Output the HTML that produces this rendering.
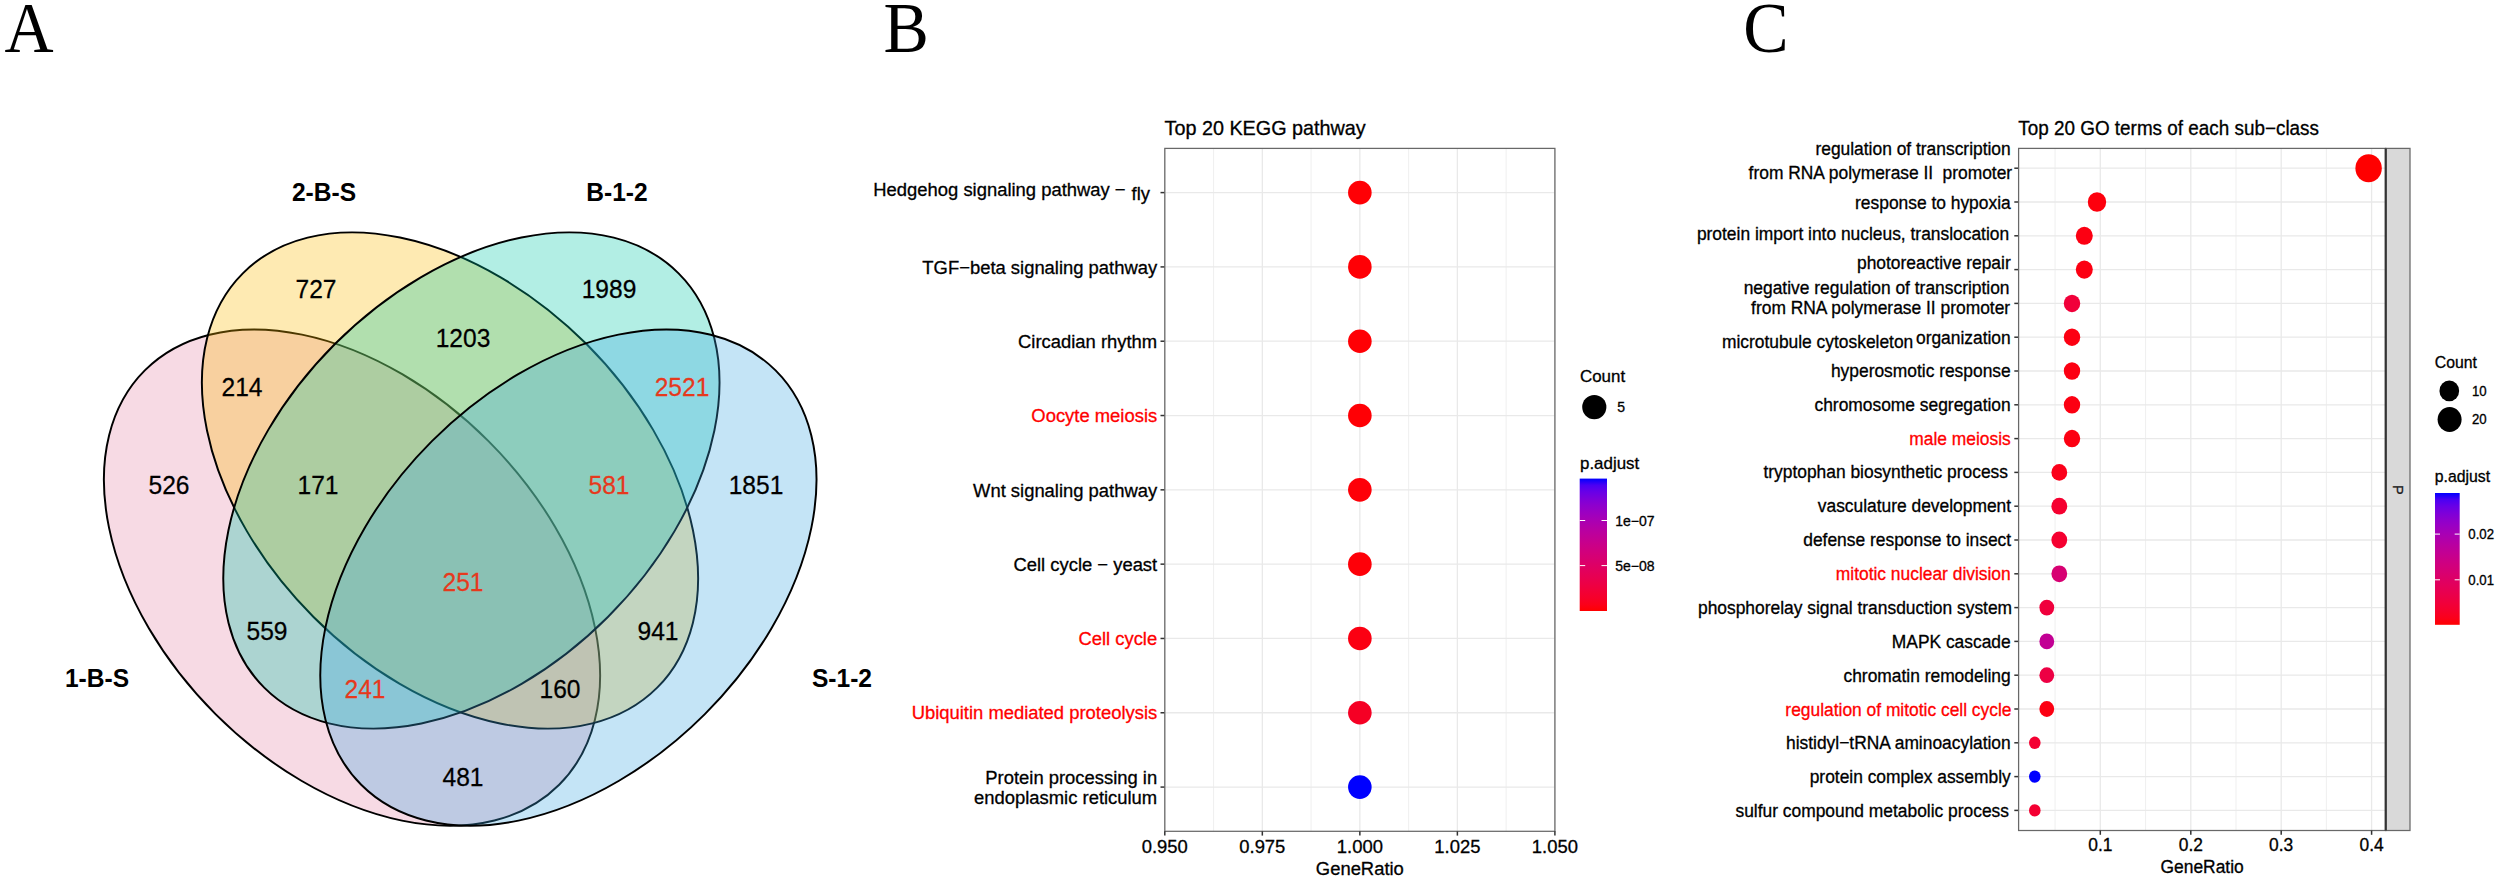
<!DOCTYPE html>
<html><head><meta charset="utf-8"><title>Figure</title>
<style>html,body{margin:0;padding:0;background:#fff;}svg{display:block;}text{font-family:"Liberation Sans",sans-serif;fill:#000;}.s{font-family:"Liberation Serif",serif;}.gg text{stroke:#000;stroke-width:0.3px;}</style>
</head><body>
<svg width="2500" height="881" viewBox="0 0 2500 881">
<rect x="0" y="0" width="2500" height="881" fill="#ffffff"/>
<text class="s" transform="translate(4.6 51.9) scale(1 1.045)" font-size="68">A</text>
<text class="s" transform="translate(883.5 51.9) scale(1 1.045)" font-size="68">B</text>
<text class="s" transform="translate(1743.2 51.9) scale(1 1.045)" font-size="68">C</text>
<ellipse cx="352" cy="577.6" rx="293" ry="193" transform="rotate(45 352 577.6)" fill="#e484a5" fill-opacity="0.3" stroke="#000" stroke-width="1.95"/>
<ellipse cx="450" cy="480.5" rx="293" ry="193" transform="rotate(45 450 480.5)" fill="#fcb900" fill-opacity="0.3" stroke="#000" stroke-width="1.95"/>
<ellipse cx="471.4" cy="480.5" rx="293" ry="193" transform="rotate(-45 471.4 480.5)" fill="#00c6a5" fill-opacity="0.3" stroke="#000" stroke-width="1.95"/>
<ellipse cx="568.4" cy="577.6" rx="293" ry="193" transform="rotate(-45 568.4 577.6)" fill="#3aa5e1" fill-opacity="0.3" stroke="#000" stroke-width="1.95"/>
<text transform="translate(316 297.5) scale(0.945 1)" font-size="26" text-anchor="middle" style="fill:#000;stroke:#000;stroke-width:0.25px">727</text>
<text transform="translate(609 297.5) scale(0.945 1)" font-size="26" text-anchor="middle" style="fill:#000;stroke:#000;stroke-width:0.25px">1989</text>
<text transform="translate(463 346.5) scale(0.945 1)" font-size="26" text-anchor="middle" style="fill:#000;stroke:#000;stroke-width:0.25px">1203</text>
<text transform="translate(242 395.5) scale(0.945 1)" font-size="26" text-anchor="middle" style="fill:#000;stroke:#000;stroke-width:0.25px">214</text>
<text transform="translate(682 395.5) scale(0.945 1)" font-size="26" text-anchor="middle" style="fill:#e6391d;stroke:#e6391d;stroke-width:0.25px">2521</text>
<text transform="translate(169 493.5) scale(0.945 1)" font-size="26" text-anchor="middle" style="fill:#000;stroke:#000;stroke-width:0.25px">526</text>
<text transform="translate(318 493.5) scale(0.945 1)" font-size="26" text-anchor="middle" style="fill:#000;stroke:#000;stroke-width:0.25px">171</text>
<text transform="translate(609 493.5) scale(0.945 1)" font-size="26" text-anchor="middle" style="fill:#e6391d;stroke:#e6391d;stroke-width:0.25px">581</text>
<text transform="translate(756 493.5) scale(0.945 1)" font-size="26" text-anchor="middle" style="fill:#000;stroke:#000;stroke-width:0.25px">1851</text>
<text transform="translate(463 590.5) scale(0.945 1)" font-size="26" text-anchor="middle" style="fill:#e6391d;stroke:#e6391d;stroke-width:0.25px">251</text>
<text transform="translate(267 639.5) scale(0.945 1)" font-size="26" text-anchor="middle" style="fill:#000;stroke:#000;stroke-width:0.25px">559</text>
<text transform="translate(658 639.5) scale(0.945 1)" font-size="26" text-anchor="middle" style="fill:#000;stroke:#000;stroke-width:0.25px">941</text>
<text transform="translate(365 697.5) scale(0.945 1)" font-size="26" text-anchor="middle" style="fill:#e6391d;stroke:#e6391d;stroke-width:0.25px">241</text>
<text transform="translate(560 697.5) scale(0.945 1)" font-size="26" text-anchor="middle" style="fill:#000;stroke:#000;stroke-width:0.25px">160</text>
<text transform="translate(463 785.5) scale(0.945 1)" font-size="26" text-anchor="middle" style="fill:#000;stroke:#000;stroke-width:0.25px">481</text>
<text transform="translate(324 200.7) scale(0.945 1)" font-size="26" font-weight="bold" text-anchor="middle">2-B-S</text>
<text transform="translate(617 200.7) scale(0.945 1)" font-size="26" font-weight="bold" text-anchor="middle">B-1-2</text>
<text transform="translate(97 687.2) scale(0.945 1)" font-size="26" font-weight="bold" text-anchor="middle">1-B-S</text>
<text transform="translate(842 687.2) scale(0.945 1)" font-size="26" font-weight="bold" text-anchor="middle">S-1-2</text>
<g class="gg">
<rect x="1164.8" y="148.4" width="390.10000000000014" height="682.9" fill="#fff"/>
<line x1="1213.5625" x2="1213.5625" y1="148.4" y2="831.3" stroke="#eeeeee" stroke-width="0.95"/>
<line x1="1311.0875" x2="1311.0875" y1="148.4" y2="831.3" stroke="#eeeeee" stroke-width="0.95"/>
<line x1="1408.6125" x2="1408.6125" y1="148.4" y2="831.3" stroke="#eeeeee" stroke-width="0.95"/>
<line x1="1506.1375" x2="1506.1375" y1="148.4" y2="831.3" stroke="#eeeeee" stroke-width="0.95"/>
<line x1="1164.8" x2="1164.8" y1="148.4" y2="831.3" stroke="#e9e9e9" stroke-width="1.3"/>
<line x1="1262.325" x2="1262.325" y1="148.4" y2="831.3" stroke="#e9e9e9" stroke-width="1.3"/>
<line x1="1359.85" x2="1359.85" y1="148.4" y2="831.3" stroke="#e9e9e9" stroke-width="1.3"/>
<line x1="1457.375" x2="1457.375" y1="148.4" y2="831.3" stroke="#e9e9e9" stroke-width="1.3"/>
<line x1="1554.9" x2="1554.9" y1="148.4" y2="831.3" stroke="#e9e9e9" stroke-width="1.3"/>
<line x1="1164.8" x2="1554.9" y1="192.6" y2="192.6" stroke="#e9e9e9" stroke-width="1.3"/>
<line x1="1164.8" x2="1554.9" y1="266.90999999999997" y2="266.90999999999997" stroke="#e9e9e9" stroke-width="1.3"/>
<line x1="1164.8" x2="1554.9" y1="341.22" y2="341.22" stroke="#e9e9e9" stroke-width="1.3"/>
<line x1="1164.8" x2="1554.9" y1="415.53" y2="415.53" stroke="#e9e9e9" stroke-width="1.3"/>
<line x1="1164.8" x2="1554.9" y1="489.84000000000003" y2="489.84000000000003" stroke="#e9e9e9" stroke-width="1.3"/>
<line x1="1164.8" x2="1554.9" y1="564.15" y2="564.15" stroke="#e9e9e9" stroke-width="1.3"/>
<line x1="1164.8" x2="1554.9" y1="638.46" y2="638.46" stroke="#e9e9e9" stroke-width="1.3"/>
<line x1="1164.8" x2="1554.9" y1="712.7700000000001" y2="712.7700000000001" stroke="#e9e9e9" stroke-width="1.3"/>
<line x1="1164.8" x2="1554.9" y1="787.08" y2="787.08" stroke="#e9e9e9" stroke-width="1.3"/>
<line x1="1160.5" x2="1164.8" y1="192.6" y2="192.6" stroke="#333" stroke-width="1.5"/>
<text x="1125.6" y="195.8" font-size="18.42" text-anchor="end">Hedgehog signaling pathway −</text>
<text x="1131.6" y="199.7" font-size="18.42">fly</text>
<circle cx="1359.85" cy="192.6" r="11.8" fill="#ff0005"/>
<line x1="1160.5" x2="1164.8" y1="266.90999999999997" y2="266.90999999999997" stroke="#333" stroke-width="1.5"/>
<text x="1157.2" y="273.60999999999996" font-size="18.42" text-anchor="end" style="fill:#000;stroke:#000">TGF−beta signaling pathway</text>
<circle cx="1359.85" cy="266.90999999999997" r="11.8" fill="#ff0005"/>
<line x1="1160.5" x2="1164.8" y1="341.22" y2="341.22" stroke="#333" stroke-width="1.5"/>
<text x="1157.2" y="347.92" font-size="18.42" text-anchor="end" style="fill:#000;stroke:#000">Circadian rhythm</text>
<circle cx="1359.85" cy="341.22" r="11.8" fill="#ff0005"/>
<line x1="1160.5" x2="1164.8" y1="415.53" y2="415.53" stroke="#333" stroke-width="1.5"/>
<text x="1157.2" y="422.22999999999996" font-size="18.42" text-anchor="end" style="fill:#ff0000;stroke:#ff0000">Oocyte meiosis</text>
<circle cx="1359.85" cy="415.53" r="11.8" fill="#ff0005"/>
<line x1="1160.5" x2="1164.8" y1="489.84000000000003" y2="489.84000000000003" stroke="#333" stroke-width="1.5"/>
<text x="1157.2" y="496.54" font-size="18.42" text-anchor="end" style="fill:#000;stroke:#000">Wnt signaling pathway</text>
<circle cx="1359.85" cy="489.84000000000003" r="11.8" fill="#fe0008"/>
<line x1="1160.5" x2="1164.8" y1="564.15" y2="564.15" stroke="#333" stroke-width="1.5"/>
<text x="1157.2" y="570.85" font-size="18.42" text-anchor="end" style="fill:#000;stroke:#000">Cell cycle − yeast</text>
<circle cx="1359.85" cy="564.15" r="11.8" fill="#fe0008"/>
<line x1="1160.5" x2="1164.8" y1="638.46" y2="638.46" stroke="#333" stroke-width="1.5"/>
<text x="1157.2" y="645.1600000000001" font-size="18.42" text-anchor="end" style="fill:#ff0000;stroke:#ff0000">Cell cycle</text>
<circle cx="1359.85" cy="638.46" r="11.8" fill="#fb0012"/>
<line x1="1160.5" x2="1164.8" y1="712.7700000000001" y2="712.7700000000001" stroke="#333" stroke-width="1.5"/>
<text x="1157.2" y="719.4700000000001" font-size="18.42" text-anchor="end" style="fill:#ff0000;stroke:#ff0000">Ubiquitin mediated proteolysis</text>
<circle cx="1359.85" cy="712.7700000000001" r="11.8" fill="#f50024"/>
<line x1="1160.5" x2="1164.8" y1="787.08" y2="787.08" stroke="#333" stroke-width="1.5"/>
<text x="1157.2" y="783.58" font-size="18.42" text-anchor="end" style="fill:#000;stroke:#000">Protein processing in</text>
<text x="1157.2" y="803.58" font-size="18.42" text-anchor="end" style="fill:#000;stroke:#000">endoplasmic reticulum</text>
<circle cx="1359.85" cy="787.08" r="11.8" fill="#0000ff"/>
<rect x="1164.8" y="148.4" width="390.10000000000014" height="682.9" fill="none" stroke="#686868" stroke-width="1.25"/>
<line x1="1164.8" x2="1164.8" y1="831.3" y2="835.5999999999999" stroke="#333" stroke-width="1.5"/>
<text x="1164.8" y="852.8" font-size="18.42" text-anchor="middle">0.950</text>
<line x1="1262.325" x2="1262.325" y1="831.3" y2="835.5999999999999" stroke="#333" stroke-width="1.5"/>
<text x="1262.325" y="852.8" font-size="18.42" text-anchor="middle">0.975</text>
<line x1="1359.85" x2="1359.85" y1="831.3" y2="835.5999999999999" stroke="#333" stroke-width="1.5"/>
<text x="1359.85" y="852.8" font-size="18.42" text-anchor="middle">1.000</text>
<line x1="1457.375" x2="1457.375" y1="831.3" y2="835.5999999999999" stroke="#333" stroke-width="1.5"/>
<text x="1457.375" y="852.8" font-size="18.42" text-anchor="middle">1.025</text>
<line x1="1554.9" x2="1554.9" y1="831.3" y2="835.5999999999999" stroke="#333" stroke-width="1.5"/>
<text x="1554.9" y="852.8" font-size="18.42" text-anchor="middle">1.050</text>
<text x="1359.85" y="875" font-size="18.42" text-anchor="middle">GeneRatio</text>
<text x="1164.5" y="134.9" font-size="19.8">Top 20 KEGG pathway</text>
<defs><linearGradient id="g1" x1="0" y1="1" x2="0" y2="0"><stop offset="0.000" stop-color="#ff0000"/><stop offset="0.050" stop-color="#fb001a"/><stop offset="0.100" stop-color="#f6002a"/><stop offset="0.150" stop-color="#f20037"/><stop offset="0.200" stop-color="#ed0044"/><stop offset="0.250" stop-color="#e80050"/><stop offset="0.300" stop-color="#e3005b"/><stop offset="0.350" stop-color="#dd0066"/><stop offset="0.400" stop-color="#d70072"/><stop offset="0.450" stop-color="#d1007d"/><stop offset="0.500" stop-color="#ca0088"/><stop offset="0.550" stop-color="#c20094"/><stop offset="0.600" stop-color="#ba009f"/><stop offset="0.650" stop-color="#b000ab"/><stop offset="0.700" stop-color="#a600b7"/><stop offset="0.750" stop-color="#9a00c3"/><stop offset="0.800" stop-color="#8d00ce"/><stop offset="0.850" stop-color="#7c00da"/><stop offset="0.900" stop-color="#6800e7"/><stop offset="0.950" stop-color="#4b00f3"/><stop offset="1.000" stop-color="#0000ff"/></linearGradient></defs>
<text x="1580" y="382" font-size="16.92">Count</text>
<circle cx="1594.3" cy="407.1" r="12.1" fill="#000"/>
<text x="1617.2" y="412" font-size="14">5</text>
<text x="1580" y="469" font-size="16.92">p.adjust</text>
<rect x="1579.7" y="478.6" width="27.3" height="132.4" fill="url(#g1)"/>
<line x1="1579.7" x2="1585.2" y1="520.5" y2="520.5" stroke="#fff" stroke-width="1"/><line x1="1601.5" x2="1607" y1="520.5" y2="520.5" stroke="#fff" stroke-width="1"/>
<text x="1615.3" y="525.5" font-size="14">1e−07</text>
<line x1="1579.7" x2="1585.2" y1="565.6" y2="565.6" stroke="#fff" stroke-width="1"/><line x1="1601.5" x2="1607" y1="565.6" y2="565.6" stroke="#fff" stroke-width="1"/>
<text x="1615.3" y="570.6" font-size="14">5e−08</text>
<rect x="2018.6" y="148.4" width="367.0999999999999" height="682.1" fill="#fff"/>
<line x1="2055.0833333333335" x2="2055.0833333333335" y1="148.4" y2="830.5" stroke="#eeeeee" stroke-width="0.95"/>
<line x1="2145.55" x2="2145.55" y1="148.4" y2="830.5" stroke="#eeeeee" stroke-width="0.95"/>
<line x1="2236.0" x2="2236.0" y1="148.4" y2="830.5" stroke="#eeeeee" stroke-width="0.95"/>
<line x1="2326.3999999999996" x2="2326.3999999999996" y1="148.4" y2="830.5" stroke="#eeeeee" stroke-width="0.95"/>
<line x1="2100.3" x2="2100.3" y1="148.4" y2="830.5" stroke="#e9e9e9" stroke-width="1.3"/>
<line x1="2190.8" x2="2190.8" y1="148.4" y2="830.5" stroke="#e9e9e9" stroke-width="1.3"/>
<line x1="2281.2" x2="2281.2" y1="148.4" y2="830.5" stroke="#e9e9e9" stroke-width="1.3"/>
<line x1="2371.6" x2="2371.6" y1="148.4" y2="830.5" stroke="#e9e9e9" stroke-width="1.3"/>
<line x1="2018.6" x2="2385.7" y1="168.2" y2="168.2" stroke="#e9e9e9" stroke-width="1.3"/>
<line x1="2018.6" x2="2385.7" y1="202.0" y2="202.0" stroke="#e9e9e9" stroke-width="1.3"/>
<line x1="2018.6" x2="2385.7" y1="235.79999999999998" y2="235.79999999999998" stroke="#e9e9e9" stroke-width="1.3"/>
<line x1="2018.6" x2="2385.7" y1="269.59999999999997" y2="269.59999999999997" stroke="#e9e9e9" stroke-width="1.3"/>
<line x1="2018.6" x2="2385.7" y1="303.4" y2="303.4" stroke="#e9e9e9" stroke-width="1.3"/>
<line x1="2018.6" x2="2385.7" y1="337.2" y2="337.2" stroke="#e9e9e9" stroke-width="1.3"/>
<line x1="2018.6" x2="2385.7" y1="371.0" y2="371.0" stroke="#e9e9e9" stroke-width="1.3"/>
<line x1="2018.6" x2="2385.7" y1="404.79999999999995" y2="404.79999999999995" stroke="#e9e9e9" stroke-width="1.3"/>
<line x1="2018.6" x2="2385.7" y1="438.59999999999997" y2="438.59999999999997" stroke="#e9e9e9" stroke-width="1.3"/>
<line x1="2018.6" x2="2385.7" y1="472.4" y2="472.4" stroke="#e9e9e9" stroke-width="1.3"/>
<line x1="2018.6" x2="2385.7" y1="506.2" y2="506.2" stroke="#e9e9e9" stroke-width="1.3"/>
<line x1="2018.6" x2="2385.7" y1="540.0" y2="540.0" stroke="#e9e9e9" stroke-width="1.3"/>
<line x1="2018.6" x2="2385.7" y1="573.8" y2="573.8" stroke="#e9e9e9" stroke-width="1.3"/>
<line x1="2018.6" x2="2385.7" y1="607.5999999999999" y2="607.5999999999999" stroke="#e9e9e9" stroke-width="1.3"/>
<line x1="2018.6" x2="2385.7" y1="641.3999999999999" y2="641.3999999999999" stroke="#e9e9e9" stroke-width="1.3"/>
<line x1="2018.6" x2="2385.7" y1="675.1999999999999" y2="675.1999999999999" stroke="#e9e9e9" stroke-width="1.3"/>
<line x1="2018.6" x2="2385.7" y1="709.0" y2="709.0" stroke="#e9e9e9" stroke-width="1.3"/>
<line x1="2018.6" x2="2385.7" y1="742.8" y2="742.8" stroke="#e9e9e9" stroke-width="1.3"/>
<line x1="2018.6" x2="2385.7" y1="776.5999999999999" y2="776.5999999999999" stroke="#e9e9e9" stroke-width="1.3"/>
<line x1="2018.6" x2="2385.7" y1="810.3999999999999" y2="810.3999999999999" stroke="#e9e9e9" stroke-width="1.3"/>
<line x1="2014.3" x2="2018.6" y1="168.2" y2="168.2" stroke="#333" stroke-width="1.5"/>
<text transform="translate(2010.7 155.0) scale(1 1.05)" font-size="17.4" text-anchor="end">regulation of transcription</text>
<text transform="translate(1748.6 178.5) scale(1 1.05)" font-size="17.4">from RNA polymerase II</text>
<text transform="translate(2012.1000000000001 178.5) scale(1 1.05)" font-size="17.4" text-anchor="end">promoter</text>
<ellipse cx="2368.6" cy="168.2" rx="13.2" ry="14.06" fill="#ff0000"/>
<line x1="2014.3" x2="2018.6" y1="202.0" y2="202.0" stroke="#333" stroke-width="1.5"/>
<text transform="translate(2010.7 208.5) scale(1 1.05)" font-size="17.4" text-anchor="end">response to hypoxia</text>
<ellipse cx="2097.0" cy="202.0" rx="9.2" ry="9.80" fill="#fd000d"/>
<line x1="2014.3" x2="2018.6" y1="235.8" y2="235.8" stroke="#333" stroke-width="1.5"/>
<text transform="translate(2009.1000000000001 239.7) scale(1 1.05)" font-size="17.4" text-anchor="end">protein import into nucleus, translocation</text>
<ellipse cx="2084.3" cy="235.8" rx="8.5" ry="9.05" fill="#fc0012"/>
<line x1="2014.3" x2="2018.6" y1="269.6" y2="269.6" stroke="#333" stroke-width="1.5"/>
<text transform="translate(2010.7 269.4) scale(1 1.05)" font-size="17.4" text-anchor="end">photoreactive repair</text>
<ellipse cx="2084.3" cy="269.6" rx="8.5" ry="9.05" fill="#fc0012"/>
<line x1="2014.3" x2="2018.6" y1="303.4" y2="303.4" stroke="#333" stroke-width="1.5"/>
<text transform="translate(2009.5 293.9) scale(1 1.05)" font-size="17.4" text-anchor="end">negative regulation of transcription</text>
<text transform="translate(2010.1000000000001 313.5) scale(1 1.05)" font-size="17.4" text-anchor="end">from RNA polymerase II promoter</text>
<ellipse cx="2072.0" cy="303.4" rx="8.2" ry="8.73" fill="#f1003a"/>
<line x1="2014.3" x2="2018.6" y1="337.2" y2="337.2" stroke="#333" stroke-width="1.5"/>
<text transform="translate(1721.9 347.6) scale(1 1.05)" font-size="17.4">microtubule cytoskeleton</text>
<text transform="translate(2010.7 344.2) scale(1 1.05)" font-size="17.4" text-anchor="end">organization</text>
<ellipse cx="2072.0" cy="337.2" rx="8.2" ry="8.73" fill="#fc0012"/>
<line x1="2014.3" x2="2018.6" y1="371.0" y2="371.0" stroke="#333" stroke-width="1.5"/>
<text transform="translate(2010.7 377.1) scale(1 1.05)" font-size="17.4" text-anchor="end">hyperosmotic response</text>
<ellipse cx="2072.0" cy="371.0" rx="8.2" ry="8.73" fill="#fc0012"/>
<line x1="2014.3" x2="2018.6" y1="404.8" y2="404.8" stroke="#333" stroke-width="1.5"/>
<text transform="translate(2010.7 410.9) scale(1 1.05)" font-size="17.4" text-anchor="end">chromosome segregation</text>
<ellipse cx="2072.0" cy="404.8" rx="8.2" ry="8.73" fill="#fc0012"/>
<line x1="2014.3" x2="2018.6" y1="438.6" y2="438.6" stroke="#333" stroke-width="1.5"/>
<text transform="translate(2010.7 444.7) scale(1 1.05)" font-size="17.4" text-anchor="end" style="fill:#ff0000;stroke:#ff0000">male meiosis</text>
<ellipse cx="2072.0" cy="438.6" rx="8.2" ry="8.73" fill="#fc0012"/>
<line x1="2014.3" x2="2018.6" y1="472.4" y2="472.4" stroke="#333" stroke-width="1.5"/>
<text transform="translate(2008.0 477.7) scale(1 1.05)" font-size="17.4" text-anchor="end">tryptophan biosynthetic process</text>
<ellipse cx="2059.3" cy="472.4" rx="7.9" ry="8.41" fill="#fb001a"/>
<line x1="2014.3" x2="2018.6" y1="506.2" y2="506.2" stroke="#333" stroke-width="1.5"/>
<text transform="translate(2011.1000000000001 512.3) scale(1 1.05)" font-size="17.4" text-anchor="end">vasculature development</text>
<ellipse cx="2059.3" cy="506.2" rx="7.9" ry="8.41" fill="#f50030"/>
<line x1="2014.3" x2="2018.6" y1="540.0" y2="540.0" stroke="#333" stroke-width="1.5"/>
<text transform="translate(2011.1000000000001 546.1) scale(1 1.05)" font-size="17.4" text-anchor="end">defense response to insect</text>
<ellipse cx="2059.3" cy="540.0" rx="7.9" ry="8.41" fill="#f50030"/>
<line x1="2014.3" x2="2018.6" y1="573.8" y2="573.8" stroke="#333" stroke-width="1.5"/>
<text transform="translate(2010.7 580.3) scale(1 1.05)" font-size="17.4" text-anchor="end" style="fill:#ff0000;stroke:#ff0000">mitotic nuclear division</text>
<ellipse cx="2059.3" cy="573.8" rx="7.9" ry="8.41" fill="#d70072"/>
<line x1="2014.3" x2="2018.6" y1="607.6" y2="607.6" stroke="#333" stroke-width="1.5"/>
<text transform="translate(2012.1000000000001 614.1) scale(1 1.05)" font-size="17.4" text-anchor="end">phosphorelay signal transduction system</text>
<ellipse cx="2046.8" cy="607.6" rx="7.4" ry="7.88" fill="#f0003c"/>
<line x1="2014.3" x2="2018.6" y1="641.4" y2="641.4" stroke="#333" stroke-width="1.5"/>
<text transform="translate(2010.7 647.9) scale(1 1.05)" font-size="17.4" text-anchor="end">MAPK cascade</text>
<ellipse cx="2046.8" cy="641.4" rx="7.4" ry="7.88" fill="#c20094"/>
<line x1="2014.3" x2="2018.6" y1="675.2" y2="675.2" stroke="#333" stroke-width="1.5"/>
<text transform="translate(2010.7 681.7) scale(1 1.05)" font-size="17.4" text-anchor="end">chromatin remodeling</text>
<ellipse cx="2046.8" cy="675.2" rx="7.4" ry="7.88" fill="#ed0044"/>
<line x1="2014.3" x2="2018.6" y1="709.0" y2="709.0" stroke="#333" stroke-width="1.5"/>
<text transform="translate(2011.5 715.5) scale(1 1.05)" font-size="17.4" text-anchor="end" style="fill:#ff0000;stroke:#ff0000">regulation of mitotic cell cycle</text>
<ellipse cx="2046.8" cy="709.0" rx="7.4" ry="7.88" fill="#fc0012"/>
<line x1="2014.3" x2="2018.6" y1="742.8" y2="742.8" stroke="#333" stroke-width="1.5"/>
<text transform="translate(2010.7 749.3) scale(1 1.05)" font-size="17.4" text-anchor="end">histidyl−tRNA aminoacylation</text>
<ellipse cx="2034.8" cy="742.8" rx="5.8" ry="6.18" fill="#f40032"/>
<line x1="2014.3" x2="2018.6" y1="776.6" y2="776.6" stroke="#333" stroke-width="1.5"/>
<text transform="translate(2010.7 783.1) scale(1 1.05)" font-size="17.4" text-anchor="end">protein complex assembly</text>
<ellipse cx="2034.8" cy="776.6" rx="5.8" ry="6.18" fill="#0000ff"/>
<line x1="2014.3" x2="2018.6" y1="810.4" y2="810.4" stroke="#333" stroke-width="1.5"/>
<text transform="translate(2009.0 816.9) scale(1 1.05)" font-size="17.4" text-anchor="end">sulfur compound metabolic process</text>
<ellipse cx="2034.8" cy="810.4" rx="5.8" ry="6.18" fill="#f40032"/>
<rect x="2385.7" y="148.4" width="24.300000000000182" height="682.1" fill="#d9d9d9" stroke="#686868" stroke-width="1.25"/>
<rect x="2018.6" y="148.4" width="367.0999999999999" height="682.1" fill="none" stroke="#686868" stroke-width="1.25"/>
<line x1="2385.7" x2="2385.7" y1="148.4" y2="830.5" stroke="#333" stroke-width="2.2"/>
<text x="0" y="0" font-size="14.6" text-anchor="middle" transform="translate(2393.1 489.8) rotate(90)" style="fill:#1a1a1a;stroke:#1a1a1a">P</text>
<line x1="2100.3" x2="2100.3" y1="830.5" y2="834.8" stroke="#333" stroke-width="1.5"/>
<text transform="translate(2100.3 851.3) scale(1 1.05)" font-size="17.4" text-anchor="middle">0.1</text>
<line x1="2190.8" x2="2190.8" y1="830.5" y2="834.8" stroke="#333" stroke-width="1.5"/>
<text transform="translate(2190.8 851.3) scale(1 1.05)" font-size="17.4" text-anchor="middle">0.2</text>
<line x1="2281.2" x2="2281.2" y1="830.5" y2="834.8" stroke="#333" stroke-width="1.5"/>
<text transform="translate(2281.2 851.3) scale(1 1.05)" font-size="17.4" text-anchor="middle">0.3</text>
<line x1="2371.6" x2="2371.6" y1="830.5" y2="834.8" stroke="#333" stroke-width="1.5"/>
<text transform="translate(2371.6 851.3) scale(1 1.05)" font-size="17.4" text-anchor="middle">0.4</text>
<text transform="translate(2202.1 872.7) scale(1 1.05)" font-size="17.4" text-anchor="middle">GeneRatio</text>
<text transform="translate(2018.3 134.9) scale(1 1.05)" font-size="18.9">Top 20 GO terms of each sub−class</text>
<text transform="translate(2434.8 367.8) scale(1 1.04)" font-size="15.8">Count</text>
<ellipse cx="2449.3" cy="390.9" rx="9.85" ry="10.35" fill="#000"/>
<ellipse cx="2449.6" cy="419.5" rx="12" ry="12.55" fill="#000"/>
<text transform="translate(2471.9 395.6) scale(1 1.04)" font-size="13.2">10</text>
<text transform="translate(2471.9 424.4) scale(1 1.04)" font-size="13.2">20</text>
<text transform="translate(2434.8 481.8) scale(1 1.04)" font-size="15.8">p.adjust</text>
<rect x="2435" y="493" width="24.7" height="131.8" fill="url(#g1)"/>
<line x1="2435" x2="2440" y1="534.1" y2="534.1" stroke="#fff" stroke-width="1"/><line x1="2454.7" x2="2459.7" y1="534.1" y2="534.1" stroke="#fff" stroke-width="1"/>
<text transform="translate(2468.3 539.0) scale(1 1.04)" font-size="13.2">0.02</text>
<line x1="2435" x2="2440" y1="579.8" y2="579.8" stroke="#fff" stroke-width="1"/><line x1="2454.7" x2="2459.7" y1="579.8" y2="579.8" stroke="#fff" stroke-width="1"/>
<text transform="translate(2468.3 584.6999999999999) scale(1 1.04)" font-size="13.2">0.01</text>
</g>
</svg></body></html>
